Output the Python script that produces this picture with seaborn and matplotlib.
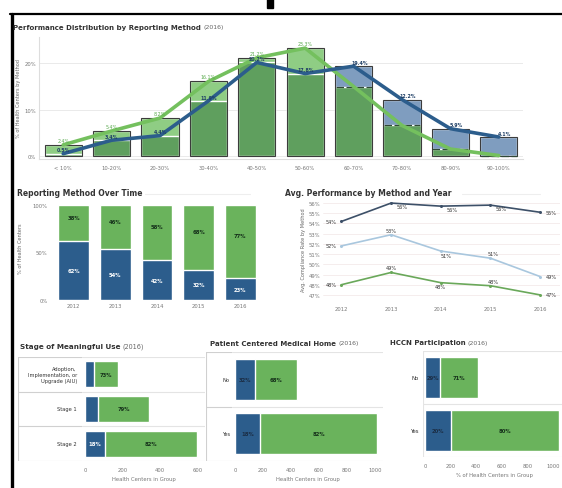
import numpy as np
import matplotlib
matplotlib.use("Agg")
import matplotlib.pyplot as plt
from matplotlib.patches import Rectangle
import seaborn as sns

sns.set_style("white")
plt.rcParams["font.family"] = ["DejaVu Sans"]

W, H = 562, 489

# ---- data ----
bins = ["< 10%", "10-20%", "20-30%", "30-40%", "40-50%",
        "50-60%", "60-70%", "70-80%", "80-90%", "90-100%"]
ehr_pct = [2.4, 5.4, 8.2, 16.1, 21.2, 23.3, 15.0, 6.6, 1.5, 0.1]
paper_pct = [0.5, 3.4, 4.4, 11.9, 20.2, 17.8, 19.4, 12.2, 5.9, 4.1]

years = ["2012", "2013", "2014", "2015", "2016"]
paper_share = [62, 54, 42, 32, 23]
ehr_share = [38, 46, 58, 68, 77]

perf_dark = [54.2, 56.0, 55.7, 55.8, 55.1]
perf_light = [51.8, 52.9, 51.3, 50.6, 48.8]
perf_green = [48.0, 49.2, 48.2, 47.9, 47.0]

stages = ["Adoption,\nImplementation, or\nUpgrade (AIU)", "Stage 1", "Stage 2"]
stage_paper = [48, 72, 105]
stage_ehr = [130, 268, 490]

pcmh = ["No", "Yes"]
pcmh_paper = [140, 182]
pcmh_ehr = [300, 830]

hccn = ["No", "Yes"]
hccn_paper = [120, 205]
hccn_ehr = [295, 845]

# ---- colours ----
BLUE = "#2c5d8c"
GREEN = "#6ab35c"
DARK_GREEN = "#5f9f5e"
LIGHT_GREEN = "#8fcd84"
LIGHT_BLUE = "#7f9dbf"
LINE_GREEN = "#74c05e"
TXT = "#333333"
TICK = "#777777"
GRID = "#e6e6e6"

fig = plt.figure(figsize=(W / 100, H / 100), dpi=100)


def add_ax(l, t, r, b):
    return fig.add_axes([l / W, 1 - b / H, (r - l) / W, (b - t) / H])


def title(x, y, bold, rest, size=5.3):
    t = fig.text(x / W, 1 - y / H, bold, fontsize=size, fontweight="bold",
                 color=TXT, va="center", ha="left")
    fig.canvas.draw()
    bb = t.get_window_extent()
    if rest:
        fig.text(bb.x1 / W + 0.004, 1 - y / H, rest, fontsize=size - 0.5,
                 color="#666666", va="center", ha="left")


def clean(ax):
    for s in ax.spines.values():
        s.set_visible(False)
    ax.tick_params(length=0, labelsize=3.8, labelcolor=TICK, pad=2)
    ax.set_xlabel("")
    ax.set_ylabel("")


# frame of the dashboard
fig.add_artist(plt.Line2D([10 / W, 1], [1 - 15 / H, 1 - 15 / H],
                          transform=fig.transFigure, color="black", lw=1.6))
fig.add_artist(plt.Line2D([11.5 / W, 11.5 / W], [0, 1 - 15 / H],
                          transform=fig.transFigure, color="black", lw=2.4))
fig.add_artist(Rectangle((267 / W, 1 - 9 / H), 6 / W, 9 / H,
                         transform=fig.transFigure, color="black"))

# ---- top: performance distribution ----
ax = add_ax(39, 38, 523, 160)
x = np.arange(len(bins))
top_vals = [max(a, b) for a, b in zip(ehr_pct, paper_pct)]
base_vals = [min(a, b) for a, b in zip(ehr_pct, paper_pct)]
top_cols = [LIGHT_GREEN if a >= b else LIGHT_BLUE for a, b in zip(ehr_pct, paper_pct)]
sns.barplot(x=bins, y=top_vals, hue=bins, palette=top_cols, legend=False,
            saturation=1, width=0.77, errorbar=None, ax=ax)
sns.barplot(x=bins, y=base_vals, color=DARK_GREEN, saturation=1, width=0.77,
            errorbar=None, ax=ax)
sns.barplot(x=bins, y=top_vals, fill=False, edgecolor="#3c3c3c", linewidth=0.8,
            width=0.77, errorbar=None, ax=ax)
for i, (a, b) in enumerate(zip(ehr_pct, paper_pct)):
    if b > a:
        ax.hlines(a, i - 0.37, i + 0.37, colors="#2f4a36", lw=0.9,
                  linestyles=(0, (6, 2)))
sns.lineplot(x=x, y=ehr_pct, color=LINE_GREEN, lw=2.6, ax=ax)
sns.lineplot(x=x, y=paper_pct, color=BLUE, lw=2.6, ax=ax)
for i, v in enumerate(ehr_pct[:6]):
    ax.text(i, v + 0.5, f"{v:.1f}%", ha="center", va="bottom", fontsize=3.4,
            color="#5aaa4e")
for i, v in enumerate(paper_pct):
    ax.text(i + (0.12 if i > 5 else 0), v + 0.3, f"{v:.1f}%", ha="center",
            va="bottom", fontsize=3.4, color="#1f3f66", fontweight="bold")
ax.set_xlim(-0.5, len(bins) - 0.5)
ax.set_ylim(-0.65, 25.7)
ax.set_yticks([0, 10, 20])
ax.set_yticklabels(["0%", "10%", "20%"])
ax.yaxis.grid(True, color=GRID, lw=0.6)
ax.set_axisbelow(True)
clean(ax)
ax.spines["left"].set_visible(True)
ax.spines["left"].set_color("#dddddd")
ax.spines["bottom"].set_visible(True)
ax.spines["bottom"].set_color("#dddddd")
ax.tick_params(axis="x", pad=4)
ax.set_ylabel("% of Health Centers by Method", fontsize=3.6, color="#666666")
ax.yaxis.set_label_coords(-0.037, 0.5)
title(13, 28, "Performance Distribution by Reporting Method", "(2016)", 5.0)

# ---- middle left: reporting method over time ----
ax = add_ax(53, 206, 261, 301)
tot = [p + e for p, e in zip(paper_share, ehr_share)]
paper_norm = [p / t * 100 for p, t in zip(paper_share, tot)]
sns.barplot(x=years, y=[p / t * 100 + e / t * 100 for p, e, t in zip(paper_share, ehr_share, tot)],
            color=GREEN, saturation=1, width=0.74, errorbar=None, ax=ax)
sns.barplot(x=years, y=paper_norm, color=BLUE, saturation=1, width=0.74,
            errorbar=None, ax=ax)
for i, (p, e) in enumerate(zip(paper_share, ehr_share)):
    ax.text(i, p / 2, f"{p}%", ha="center", va="center", fontsize=3.8,
            color="white", fontweight="bold")
    ax.text(i, p + (100 - p) / 2 + 6, f"{e}%", ha="center", va="center",
            fontsize=3.8, color="#15301a", fontweight="bold")
ax.set_ylim(0, 100)
ax.set_yticks([0, 50, 100])
ax.set_yticklabels(["0%", "50%", "100%"])
clean(ax)
ax.tick_params(axis="y", pad=4)
ax.set_ylabel("% of Health Centers", fontsize=3.6, color="#666666")
ax.yaxis.set_label_coords(-0.145, 0.55)
title(17, 193, "Reporting Method Over Time", "", 5.5)
fig.add_artist(plt.Line2D([145 / W, 250 / W], [1 - 195 / H, 1 - 195 / H],
                          transform=fig.transFigure, color="#eeeeee", lw=0.8))

# ---- middle right: average performance ----
ax = add_ax(323, 200, 560, 300)
xi = np.arange(len(years))
series = [(perf_dark, "#3d5068"), (perf_light, "#a9c7de"), (perf_green, "#6aa85a")]
for vals, col in series:
    sns.lineplot(x=xi, y=vals, color=col, lw=1.2, marker="o", markersize=2.2,
                 markeredgewidth=0, ax=ax)
offs = {
    0: [(-0.2, 0), (0.22, -0.35), (0.22, -0.35), (0.22, -0.35), (0.22, 0)],
    1: [(-0.2, 0), (0, 0.45), (0.1, -0.45), (0.05, 0.45), (0.22, 0)],
    2: [(-0.2, 0), (0, 0.45), (0, -0.4), (0.05, 0.45), (0.22, 0)],
}
for k, (vals, col) in enumerate(series):
    for i, v in enumerate(vals):
        dx, dy = offs[k][i]
        ax.text(i + dx, v + dy, f"{round(v):.0f}%", ha="center", va="center",
                fontsize=3.6, color="#333333")
ax.set_xlim(-0.37, 4.4)
ax.set_ylim(46.6, 56.4)
ax.set_xticks(xi)
ax.set_xticklabels(years)
ax.set_yticks(np.arange(47, 57))
ax.set_yticklabels([f"{v}%" for v in range(47, 57)])
ax.yaxis.grid(True, color="#f1e6e6", lw=0.5)
clean(ax)
ax.tick_params(axis="x", pad=5)
ax.set_ylabel("Avg. Compliance Rate by Method", fontsize=3.6, color="#666666",
              labelpad=2)
title(285, 193, "Avg. Performance by Method and Year", "", 5.5)
fig.add_artist(plt.Line2D([462 / W, 540 / W], [1 - 195 / H, 1 - 195 / H],
                          transform=fig.transFigure, color="#eeeeee", lw=0.8))


# ---- bottom: horizontal stacked bars ----
def hbars(ax, cats, paper, ehr, xlim, ticks, xlabel, blue_txt, width):
    total = [p + e for p, e in zip(paper, ehr)]
    sns.barplot(y=cats, x=total, color=GREEN, saturation=1, width=width,
                errorbar=None, orient="h", ax=ax)
    sns.barplot(y=cats, x=paper, color=BLUE, saturation=1, width=width,
                errorbar=None, orient="h", ax=ax)
    for i, (p, e, t) in enumerate(zip(paper, ehr, total)):
        ax.text(p + e / 2, i, f"{round(e / t * 100)}%", ha="center", va="center",
                fontsize=3.8, color="#15301a", fontweight="bold")
        if p >= 100:
            ax.text(p / 2, i, f"{round(p / t * 100)}%", ha="center",
                    va="center", fontsize=3.8, color=blue_txt, fontweight="bold")
    ax.set_xlim(*xlim)
    ax.set_ylim(len(cats) - 0.5, -0.5)
    ax.set_xticks(ticks)
    ax.set_xticklabels([str(t) for t in ticks])
    clean(ax)
    ax.tick_params(axis="x", pad=4)
    ax.set_xlabel(xlabel, fontsize=3.8, color=TICK, labelpad=3)
    ax.axhline(-0.5, color="#e4e4e4", lw=0.8)
    ax.axhline(len(cats) - 0.5, color="#e4e4e4", lw=0.8)
    for k in range(1, len(cats)):
        ax.axhline(k - 0.5, color="#e4e4e4", lw=0.8)


def header(l, t, r, b, cats):
    hx = add_ax(l, t, r, b)
    hx.set_xlim(0, 1)
    hx.set_ylim(len(cats) - 0.5, -0.5)
    for k in range(len(cats) + 1):
        hx.axhline(k - 0.5, color="#d0d0d0", lw=0.8)
    hx.axvline(0, color="#d0d0d0", lw=0.8)
    for i, c in enumerate(cats):
        hx.text(0.92, i, c, ha="right", va="center", fontsize=3.7, color=TXT,
                linespacing=1.3)
    hx.set_xticks([])
    hx.set_yticks([])
    for s in hx.spines.values():
        s.set_visible(False)


ax = add_ax(82, 358, 205, 462)
hbars(ax, stages, stage_paper, stage_ehr, (-15, 640), [0, 200, 400, 600],
      "Health Centers in Group", "white", 0.75)
ax.set_yticks([])
header(18, 358, 82, 462, stages)
title(20, 347, "Stage of Meaningful Use", "(2016)", 5.2)

ax = add_ax(232, 353, 383, 462)
hbars(ax, pcmh, pcmh_paper, pcmh_ehr, (-21, 1057),
      [0, 200, 400, 600, 800, 1000], "Health Centers in Group", "#1b2d44", 0.76)
ax.set_yticks([])
header(206, 353, 232, 462, pcmh)
title(210, 344, "Patient Centered Medical Home", "(2016)", 5.0)

ax = add_ax(423, 352, 566, 458)
hbars(ax, hccn, hccn_paper, hccn_ehr, (-16, 1101),
      [0, 200, 400, 600, 800, 1000], "% of Health Centers in Group", "#1b2d44", 0.77)
ax.tick_params(axis="y", labelsize=3.9, labelcolor=TXT, pad=3)
ax.axvline(-16, color="#e4e4e4", lw=0.8)
title(390, 343, "HCCN Participation", "(2016)", 5.0)

fig.savefig("out.png", dpi=100)
